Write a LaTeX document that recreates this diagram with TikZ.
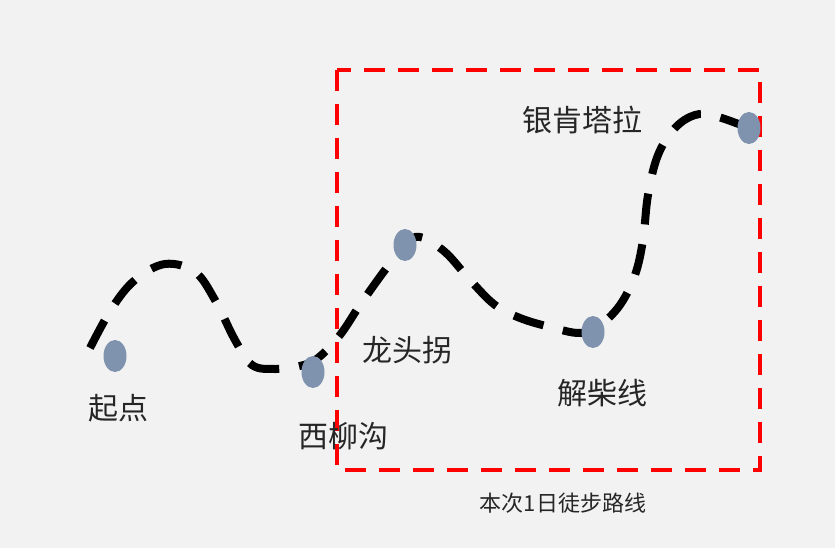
\documentclass[tikz,border=0pt]{standalone}
\usepackage{fontspec}
\usetikzlibrary{shapes.geometric}
\newfontfamily\cjk{Noto Sans CJK SC}
\definecolor{bg}{HTML}{F2F2F2}
\definecolor{dotc}{HTML}{7F93AF}
\definecolor{boxred}{HTML}{FF0000}
\begin{document}
\begin{tikzpicture}[x=1pt,y=-1pt,
  stop/.style={ellipse,fill=dotc,minimum width=23pt,minimum height=32pt,inner sep=0pt},
  lbl/.style={font=\cjk\fontsize{30}{34}\selectfont,text=black!85,inner sep=0pt},
  route/.style={line width=8pt,dash pattern=on 31pt off 20pt,black},
  area/.style={line width=4.5pt,boxred,dash pattern=on 21pt off 13pt}]
\useasboundingbox (0,0) rectangle (835,548);
\fill[bg] (0,0) rectangle (835,548);
\draw[area] (337,70) rectangle (760,470);
\draw[route] plot[smooth,tension=0.6] coordinates {(90,348) (112,308) (135,280) (165,264) (195,272) (215,300) (235,340) (252,365) (275,369) (300,366) (318,358) (340,335) (360,305) (385,270) (405,245) (420,237) (445,252) (470,280) (495,305) (520,318) (550,327) (580,333) (600,325) (620,305) (635,275) (643,240) (648,195) (658,155) (675,128) (695,115) (715,116) (749,128)};
\node[stop] (qd) at (115,356) {};
\node[stop] (xlg) at (313,372) {};
\node[stop] (ltg) at (405,245) {};
\node[stop] (jcx) at (593,332) {};
\node[stop] (ykt) at (749,128) {};
\node[lbl] (tqd) at (118,408) {起点};
\node[lbl] (txlg) at (343,436) {西柳沟};
\node[lbl] (tltg) at (407,350) {龙头拐};
\node[lbl] (tjcx) at (602,393) {解柴线};
\node[lbl] (tykt) at (582,120) {银肯塔拉};
\node[font=\cjk\fontsize{22}{26}\selectfont,text=black!85,inner sep=0pt] (cap) at (563,503) {本次1日徒步路线};
\end{tikzpicture}
\end{document}
